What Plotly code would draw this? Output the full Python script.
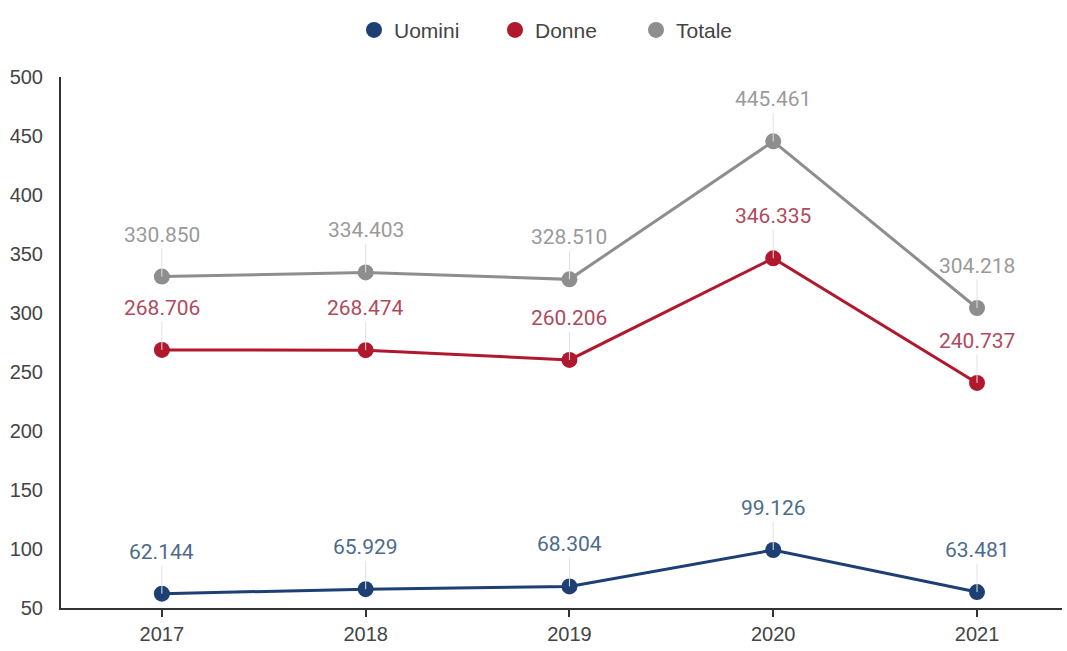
import plotly.graph_objects as go

years = ["2017", "2018", "2019", "2020", "2021"]
uomini = [62.144, 65.929, 68.304, 99.126, 63.481]
donne = [268.706, 268.474, 260.206, 346.335, 240.737]
totale = [330.850, 334.403, 328.510, 445.461, 304.218]
y_ticks = [50, 100, 150, 200, 250, 300, 350, 400, 450, 500]

series = [
    ("Uomini", uomini, "#1d3f74", "#4d6b8c"),
    ("Donne", donne, "#b0182e", "#b04a5c"),
    ("Totale", totale, "#8e8e8e", "#9a9a9a"),
]

xpos = list(range(len(years)))
LABEL_FONT = "Roboto, Arial, sans-serif"
AXIS_FONT = "Liberation Sans, Arial, sans-serif"

fig = go.Figure()
annotations = []
for name, vals, color, label_color in series:
    fig.add_trace(go.Scatter(
        x=xpos, y=vals, mode="lines+markers", name=name,
        line=dict(color=color, width=3),
        marker=dict(color=color, size=16),
        showlegend=False, hoverinfo="skip",
    ))
    # legend entry: marker only
    fig.add_trace(go.Scatter(
        x=[None], y=[None], mode="markers", name=name,
        marker=dict(color=color, size=18),
    ))
    for xi, v in zip(xpos, vals):
        annotations.append(dict(
            x=xi, y=v, xref="x", yref="y",
            text=f"{v:.3f}", showarrow=True, arrowhead=0,
            arrowwidth=1, arrowcolor="#e2e2e2", ax=0, ay=-42,
            standoff=0, startstandoff=0,
            font=dict(family=LABEL_FONT, size=21, color=label_color),
        ))

fig.update_layout(
    width=1067, height=651,
    margin=dict(l=61, r=5, t=77, b=43),
    paper_bgcolor="white", plot_bgcolor="white",
    font=dict(family=AXIS_FONT, size=20, color="#444"),
    annotations=annotations,
    legend=dict(
        orientation="h", x=0.504, xanchor="center", y=1.088, yanchor="middle",
        font=dict(family=AXIS_FONT, size=21, color="#444"),
        itemsizing="trace", tracegroupgap=0, entrywidth=96,
    ),
    xaxis=dict(
        range=[-0.495, 4.417], tickmode="array", tickvals=xpos, ticktext=years,
        showgrid=False, zeroline=False, showline=True, linecolor="#333",
        linewidth=2, ticks="outside", ticklen=7, tickwidth=2, tickcolor="#333",
        tickfont=dict(family=AXIS_FONT, size=20, color="#444"),
    ),
    yaxis=dict(
        range=[50, 500], tickmode="array", tickvals=y_ticks,
        showgrid=False, zeroline=False, showline=True, linecolor="#333",
        linewidth=2, ticks="", ticklabelstandoff=12,
        tickfont=dict(family=AXIS_FONT, size=20, color="#444"),
    ),
)

fig.write_html("out.html")
